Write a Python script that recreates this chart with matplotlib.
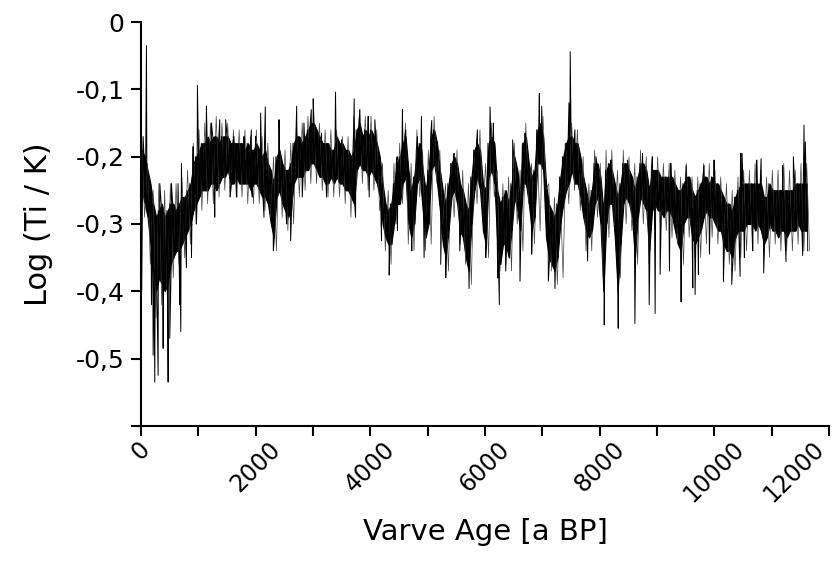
import numpy as np
import matplotlib.pyplot as plt
from matplotlib.transforms import ScaledTranslation

# core band of the record, read per 50-year bin (upper and lower edge of the solid trace)
band_hi = [-0.19, -0.20, -0.22, -0.24, -0.27, -0.29, -0.28, -0.27, -0.29, -0.28,
           -0.27, -0.27, -0.28, -0.27, -0.26, -0.26, -0.25, -0.24, -0.21, -0.20,
           -0.19, -0.18, -0.18, -0.17, -0.18, -0.17, -0.17, -0.18, -0.17, -0.17,
           -0.17, -0.18, -0.18, -0.18, -0.18, -0.18, -0.19, -0.18, -0.19, -0.19,
           -0.18, -0.19, -0.20, -0.19, -0.21, -0.22, -0.24, -0.20, -0.19, -0.21,
           -0.22, -0.22, -0.21, -0.18, -0.17, -0.17, -0.18, -0.17, -0.16, -0.15,
           -0.15, -0.16, -0.17, -0.18, -0.18, -0.18, -0.19, -0.19, -0.17, -0.18,
           -0.18, -0.19, -0.19, -0.20, -0.19, -0.16, -0.15, -0.17, -0.16, -0.17,
           -0.16, -0.17, -0.18, -0.20, -0.24, -0.27, -0.28, -0.27, -0.24, -0.21,
           -0.20, -0.18, -0.17, -0.22, -0.25, -0.23, -0.19, -0.18, -0.22, -0.25,
           -0.22, -0.17, -0.16, -0.18, -0.22, -0.25, -0.27, -0.24, -0.21, -0.20,
           -0.21, -0.24, -0.25, -0.27, -0.28, -0.23, -0.19, -0.18, -0.19, -0.24,
           -0.25, -0.18, -0.17, -0.18, -0.25, -0.27, -0.26, -0.25, -0.27, -0.24,
           -0.20, -0.22, -0.25, -0.18, -0.17, -0.21, -0.23, -0.22, -0.16, -0.15,
           -0.17, -0.24, -0.27, -0.28, -0.29, -0.27, -0.23, -0.20, -0.18, -0.17,
           -0.17, -0.18, -0.18, -0.20, -0.23, -0.25, -0.27, -0.25, -0.21, -0.21,
           -0.23, -0.28, -0.22, -0.21, -0.22, -0.24, -0.26, -0.24, -0.21, -0.21,
           -0.22, -0.23, -0.25, -0.23, -0.21, -0.21, -0.22, -0.25, -0.22, -0.22,
           -0.22, -0.23, -0.23, -0.23, -0.23, -0.23, -0.24, -0.25, -0.25, -0.24,
           -0.23, -0.23, -0.25, -0.26, -0.25, -0.24, -0.23, -0.23, -0.24, -0.23,
           -0.24, -0.24, -0.25, -0.26, -0.27, -0.27, -0.28, -0.26, -0.25, -0.24,
           -0.24, -0.24, -0.24, -0.24, -0.24, -0.24, -0.24, -0.26, -0.26, -0.24,
           -0.25, -0.25, -0.25, -0.25, -0.25, -0.25, -0.25, -0.25, -0.24, -0.24,
           -0.24, -0.24, -0.24]
band_lo = [-0.25, -0.27, -0.29, -0.33, -0.37, -0.40, -0.38, -0.39, -0.40, -0.39,
           -0.36, -0.35, -0.34, -0.34, -0.33, -0.32, -0.31, -0.30, -0.28, -0.27,
           -0.26, -0.25, -0.25, -0.25, -0.24, -0.24, -0.25, -0.24, -0.23, -0.23,
           -0.22, -0.24, -0.24, -0.23, -0.24, -0.24, -0.24, -0.24, -0.25, -0.24,
           -0.24, -0.25, -0.26, -0.26, -0.27, -0.30, -0.32, -0.26, -0.25, -0.27,
           -0.28, -0.29, -0.28, -0.24, -0.23, -0.23, -0.23, -0.22, -0.22, -0.21,
           -0.21, -0.22, -0.23, -0.23, -0.24, -0.24, -0.23, -0.24, -0.23, -0.24,
           -0.24, -0.25, -0.25, -0.26, -0.27, -0.22, -0.21, -0.22, -0.22, -0.23,
           -0.22, -0.23, -0.24, -0.26, -0.30, -0.32, -0.33, -0.33, -0.30, -0.27,
           -0.27, -0.24, -0.23, -0.30, -0.32, -0.30, -0.24, -0.23, -0.28, -0.32,
           -0.30, -0.22, -0.21, -0.24, -0.28, -0.33, -0.35, -0.31, -0.26, -0.25,
           -0.27, -0.31, -0.32, -0.35, -0.37, -0.30, -0.25, -0.23, -0.25, -0.31,
           -0.33, -0.23, -0.22, -0.24, -0.33, -0.36, -0.33, -0.33, -0.35, -0.31,
           -0.26, -0.28, -0.31, -0.24, -0.24, -0.27, -0.31, -0.29, -0.21, -0.21,
           -0.22, -0.32, -0.35, -0.36, -0.37, -0.35, -0.30, -0.27, -0.25, -0.24,
           -0.22, -0.24, -0.24, -0.26, -0.29, -0.31, -0.32, -0.31, -0.27, -0.26,
           -0.30, -0.40, -0.30, -0.27, -0.27, -0.32, -0.40, -0.33, -0.27, -0.26,
           -0.27, -0.29, -0.35, -0.29, -0.26, -0.27, -0.28, -0.34, -0.28, -0.27,
           -0.28, -0.28, -0.29, -0.28, -0.28, -0.29, -0.31, -0.33, -0.34, -0.30,
           -0.29, -0.29, -0.32, -0.33, -0.32, -0.31, -0.29, -0.28, -0.29, -0.29,
           -0.30, -0.31, -0.31, -0.33, -0.34, -0.34, -0.35, -0.32, -0.31, -0.31,
           -0.31, -0.30, -0.30, -0.30, -0.31, -0.30, -0.31, -0.33, -0.32, -0.30,
           -0.31, -0.31, -0.32, -0.31, -0.31, -0.32, -0.31, -0.31, -0.31, -0.30,
           -0.31, -0.31, -0.31]

# thin fringe around the core, per 100-year bin (typical upward / downward reach)
fringe_up = [-0.17, -0.21, -0.25, -0.24, -0.25, -0.24, -0.24, -0.23, -0.22, -0.18,
             -0.16, -0.15, -0.15, -0.14, -0.15, -0.15, -0.16, -0.16, -0.16, -0.17,
             -0.16, -0.17, -0.18, -0.20, -0.17, -0.19, -0.18, -0.15, -0.15, -0.14,
             -0.13, -0.15, -0.16, -0.16, -0.16, -0.17, -0.17, -0.14, -0.13, -0.14,
             -0.14, -0.16, -0.21, -0.25, -0.21, -0.18, -0.15, -0.21, -0.16, -0.19,
             -0.19, -0.14, -0.19, -0.24, -0.21, -0.19, -0.22, -0.24, -0.20, -0.16,
             -0.21, -0.15, -0.22, -0.24, -0.23, -0.18, -0.22, -0.15, -0.21, -0.19,
             -0.14, -0.24, -0.26, -0.25, -0.19, -0.15, -0.16, -0.20, -0.24, -0.19,
             -0.21, -0.19, -0.19, -0.22, -0.19, -0.20, -0.21, -0.19, -0.20, -0.20,
             -0.20, -0.21, -0.21, -0.22, -0.23, -0.21, -0.23, -0.23, -0.21, -0.21,
             -0.22, -0.23, -0.24, -0.25, -0.23, -0.22, -0.22, -0.21, -0.22, -0.23,
             -0.22, -0.22, -0.21, -0.22, -0.22, -0.21, -0.21]
fringe_dn = [-0.29, -0.36, -0.44, -0.42, -0.42, -0.38, -0.36, -0.35, -0.33, -0.30,
             -0.28, -0.27, -0.27, -0.26, -0.25, -0.26, -0.26, -0.26, -0.27, -0.27,
             -0.27, -0.28, -0.29, -0.34, -0.29, -0.31, -0.30, -0.26, -0.25, -0.24,
             -0.24, -0.25, -0.26, -0.26, -0.26, -0.27, -0.29, -0.24, -0.24, -0.25,
             -0.25, -0.28, -0.34, -0.36, -0.30, -0.27, -0.33, -0.34, -0.26, -0.34,
             -0.33, -0.24, -0.30, -0.37, -0.29, -0.33, -0.36, -0.39, -0.27, -0.28,
             -0.35, -0.26, -0.37, -0.36, -0.37, -0.30, -0.34, -0.27, -0.33, -0.31,
             -0.25, -0.37, -0.39, -0.38, -0.27, -0.25, -0.28, -0.34, -0.34, -0.29,
             -0.38, -0.32, -0.30, -0.38, -0.30, -0.31, -0.36, -0.30, -0.36, -0.30,
             -0.31, -0.31, -0.32, -0.33, -0.36, -0.32, -0.35, -0.35, -0.33, -0.32,
             -0.33, -0.34, -0.36, -0.37, -0.35, -0.34, -0.33, -0.33, -0.34, -0.35,
             -0.33, -0.34, -0.34, -0.34, -0.33, -0.34, -0.34]

# single-varve spikes (year, value)
spike_years = [10, 35, 93, 180, 210, 238, 297, 326, 384, 471, 500, 529, 645, 674,
               692, 703, 790, 878, 907, 965, 982, 1139, 1226, 1284, 1371,
               1475, 1550, 1620, 1667, 1795, 1922, 1940, 1998, 2085, 2143, 2166,
               2306, 2405, 2538, 2608, 2713, 2811, 2840, 2968,
               3002, 3147, 3235, 3391, 3496, 3717, 3740, 3816, 3961, 3978, 4077,
               4193, 4327, 4466,
               4471, 4558, 4616, 4721, 4820, 4889, 4936, 5069, 5226, 5314, 5459,
               5558, 5720, 5865,
               6011, 6086, 6144, 6220, 6249, 6359, 6481, 6609, 6696, 6813, 6946,
               6987, 7103, 7219, 7463,
               7485, 7567, 7788, 7933, 8078, 8194, 8322, 8485, 8613, 8746, 8862,
               8920,
               8966, 9053, 9216, 9239, 9419, 9506, 9623, 9663, 9721, 9820, 9913,
               9994, 10157, 10302, 10459,
               10448, 10482, 10523, 10668, 10738, 10814, 10860, 11191, 11249,
               11377, 11540, 11563, 11586, 11627]
spike_vals = [-0.40, -0.17, -0.035, -0.42, -0.495, -0.535, -0.525, -0.24, -0.485,
              -0.535, -0.47, -0.24, -0.24, -0.42, -0.46, -0.21, -0.365, -0.35,
              -0.185, -0.30, -0.094, -0.125, -0.15, -0.29, -0.145,
              -0.145, -0.26, -0.17, -0.26, -0.17, -0.16, -0.26, -0.17, -0.135,
              -0.29, -0.126, -0.34, -0.145, -0.30, -0.325, -0.125, -0.26, -0.15,
              -0.13,
              -0.114, -0.165, -0.26, -0.104, -0.175, -0.114, -0.29, -0.13, -0.14,
              -0.26, -0.145, -0.325, -0.376, -0.20,
              -0.31, -0.13, -0.16, -0.34, -0.17, -0.14, -0.35, -0.146, -0.36,
              -0.38, -0.195, -0.34, -0.396, -0.16,
              -0.35, -0.126, -0.15, -0.38, -0.42, -0.37, -0.175, -0.385, -0.165,
              -0.345, -0.106, -0.125, -0.385, -0.396, -0.12,
              -0.044, -0.16, -0.355, -0.20, -0.45, -0.205, -0.455, -0.205, -0.448,
              -0.195, -0.42, -0.20,
              -0.433, -0.375, -0.37, -0.21, -0.416, -0.213, -0.395, -0.405,
              -0.375, -0.213, -0.345, -0.205, -0.386, -0.39, -0.195,
              -0.378, -0.195, -0.35, -0.34, -0.205, -0.203, -0.373, -0.213,
              -0.356, -0.20, -0.347, -0.153, -0.178, -0.34]

y_ticks = [0, -0.1, -0.2, -0.3, -0.4, -0.5, -0.6]
y_labels = ['0', '-0,1', '-0,2', '-0,3', '-0,4', '-0,5', '']
x_ticks = list(range(0, 12001, 1000))
x_labels = ['0', '', '2000', '', '4000', '', '6000', '', '8000', '', '10000', '', '12000']

# main trace: upper and lower edge of each bin, plus the spikes, in time order
bin_years = np.arange(len(band_hi)) * 50
years = np.concatenate([bin_years, bin_years + 25, spike_years])
vals = np.concatenate([band_hi, band_lo, spike_vals])
order = np.argsort(years, kind='stable')
years, vals = years[order], vals[order]

# fringe trace
f_bins = np.arange(len(fringe_up)) * 100
f_years = np.concatenate([f_bins + 10, f_bins + 60])
f_vals = np.concatenate([fringe_up, fringe_dn])
f_order = np.argsort(f_years, kind='stable')
f_years, f_vals = f_years[f_order], f_vals[f_order]

plt.rcParams['font.family'] = ['DejaVu Sans']

fig = plt.figure(figsize=(8.4, 5.67), dpi=100)
ax = fig.add_axes([0.168, 0.249, 0.819, 0.712])
ax.plot(f_years, f_vals, color='#444444', lw=0.5)
ax.fill_between(bin_years + 12.5, band_lo, band_hi, color='black', lw=0.8)
ax.plot(years, vals, color='black', lw=0.7)

ax.set_xlim(0, 12000)
ax.set_ylim(-0.6, 0)
ax.set_yticks(y_ticks)
ax.set_yticklabels(y_labels)
ax.set_xticks(x_ticks)
ax.set_xticklabels(x_labels, rotation=45, ha='center', va='top')
last = ax.get_xticklabels()[-1]
last.set_ha('right')
last.set_transform(last.get_transform() + ScaledTranslation(0.09, 0, fig.dpi_scale_trans))

for side in ['top', 'right']:
    ax.spines[side].set_visible(False)
for side in ['left', 'bottom']:
    ax.spines[side].set_linewidth(1.5)
ax.tick_params(axis='both', direction='out', length=7, width=1.5)
ax.tick_params(axis='y', labelsize=18, pad=5)
ax.tick_params(axis='x', labelsize=17, pad=1)

ax.set_xlabel('Varve Age [a BP]', fontsize=21, labelpad=8)
ax.set_ylabel('Log (Ti / K)', fontsize=22, labelpad=16)

fig.savefig('out.png', dpi=100)
